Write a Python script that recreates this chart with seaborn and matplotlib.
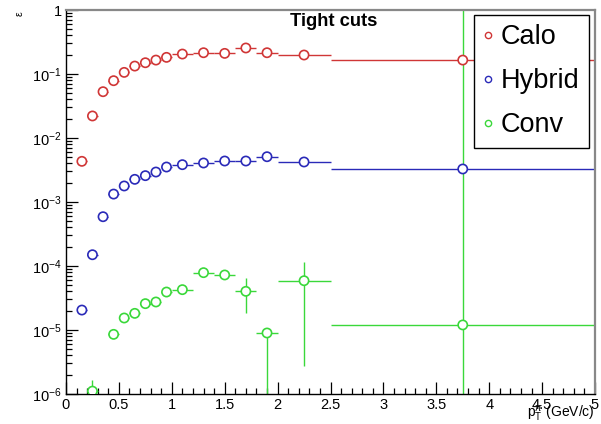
import numpy as np
import pandas as pd
import matplotlib
matplotlib.use("Agg")
import matplotlib.pyplot as plt
import seaborn as sns
from matplotlib.ticker import FixedLocator, LogLocator, NullFormatter, FixedFormatter
from matplotlib.lines import Line2D

# ---------------- data ----------------
x_centers = [0.15, 0.25, 0.35, 0.45, 0.55, 0.65, 0.75, 0.85, 0.95,
             1.1, 1.3, 1.5, 1.7, 1.9, 2.25, 3.75]
x_halfwidth = [0.05, 0.05, 0.05, 0.05, 0.05, 0.05, 0.05, 0.05, 0.05,
               0.1, 0.1, 0.1, 0.1, 0.1, 0.25, 1.25]

calo_eff = [0.00432, 0.0221, 0.0529, 0.0786, 0.106, 0.133, 0.150, 0.165, 0.182,
            0.205, 0.215, 0.210, 0.255, 0.215, 0.198, 0.165]
hybrid_eff = [2.05e-5, 1.50e-4, 5.89e-4, 0.00133, 0.00178, 0.00226, 0.00258, 0.00294,
              0.00352, 0.00383, 0.00407, 0.00437, 0.00437, 0.0051, 0.00422, 0.00328]

conv_x = [0.25, 0.45, 0.55, 0.65, 0.75, 0.85, 0.95, 1.1, 1.3, 1.5, 1.7, 1.9, 2.25, 3.75]
conv_halfwidth = [0.05, 0.05, 0.05, 0.05, 0.05, 0.05, 0.05, 0.1, 0.1, 0.1, 0.1, 0.1, 0.25, 1.25]
conv_eff = [1.11e-6, 8.55e-6, 1.54e-5, 1.82e-5, 2.58e-5, 2.74e-5, 3.92e-5, 4.27e-5,
            7.87e-5, 7.24e-5, 4.02e-5, 8.98e-6, 5.89e-5, 1.2e-5]
conv_lo = [1e-9, 8.55e-6, 1.54e-5, 1.82e-5, 2.58e-5, 2.74e-5, 3.92e-5, 4.27e-5,
           7.87e-5, 7.24e-5, 1.84e-5, 1e-9, 2.71e-6, 1e-9]
conv_hi = [1.64e-6, 8.55e-6, 1.54e-5, 1.82e-5, 2.58e-5, 2.74e-5, 3.92e-5, 4.27e-5,
           7.87e-5, 7.24e-5, 6.49e-5, 9.5e-6, 1.155e-4, 3.0]

series_names = ["Calo", "Hybrid", "Conv"]
series_colors = {"Calo": "#d03636", "Hybrid": "#2a2ab8", "Conv": "#3ad83a"}

x_tick_labels = ["0", "0.5", "1", "1.5", "2", "2.5", "3", "3.5", "4", "4.5", "5"]
y_tick_labels = ["$10^{-6}$", "$10^{-5}$", "$10^{-4}$", "$10^{-3}$", "$10^{-2}$", "$10^{-1}$", "1"]

# ---------------- frame ----------------
sns.set_style("white")
plt.rcParams["font.family"] = ["Liberation Sans", "DejaVu Sans"]
plt.rcParams["mathtext.fontset"] = "custom"
plt.rcParams["mathtext.rm"] = "Liberation Sans"
plt.rcParams["mathtext.it"] = "Liberation Sans:italic"
plt.rcParams["text.color"] = "black"

df_calo = pd.DataFrame({"x": x_centers, "y": calo_eff, "xe": x_halfwidth, "s": "Calo"})
df_hyb = pd.DataFrame({"x": x_centers, "y": hybrid_eff, "xe": x_halfwidth, "s": "Hybrid"})
df_conv = pd.DataFrame({"x": conv_x, "y": conv_eff, "xe": conv_halfwidth, "s": "Conv",
                        "lo": conv_lo, "hi": conv_hi})
df = pd.concat([df_calo, df_hyb, df_conv], ignore_index=True)

fig = plt.figure(figsize=(6.01, 4.24), dpi=100)
ax = fig.add_axes([66 / 601, 1 - 394 / 424, 529 / 601, 384 / 424])
ax.set_yscale("log")
ax.set_xlim(0, 5)
ax.set_ylim(1e-6, 1)

for name, d in [("Calo", df_calo), ("Hybrid", df_hyb), ("Conv", df_conv)]:
    c = series_colors[name]
    if "lo" in d:
        yerr = [d["y"] - d["lo"], d["hi"] - d["y"]]
    else:
        yerr = None
    ax.errorbar(d["x"], d["y"], xerr=d["xe"], yerr=yerr, fmt="none",
                ecolor=c, elinewidth=1.0, capsize=0, zorder=2)

sns.scatterplot(data=df, x="x", y="y", hue="s", palette=series_colors,
                marker="o", s=44, linewidth=1.2, legend=False, ax=ax, zorder=3)
pts = ax.collections[-1]
fc = pts.get_facecolors()
pts.set_edgecolors(fc)
pts.set_facecolors("white")
ax.set_xlabel("")
ax.set_ylabel("")

# ticks
ax.xaxis.set_major_locator(FixedLocator(np.arange(0, 5.01, 0.5)))
ax.xaxis.set_major_formatter(FixedFormatter(x_tick_labels))
ax.xaxis.set_minor_locator(FixedLocator(np.arange(0, 5.01, 0.1)))
ax.yaxis.set_major_locator(FixedLocator([1e-6, 1e-5, 1e-4, 1e-3, 1e-2, 1e-1, 1]))
ax.yaxis.set_major_formatter(FixedFormatter(y_tick_labels))
ax.yaxis.set_minor_locator(LogLocator(base=10, subs=np.arange(2, 10), numticks=20))
ax.yaxis.set_minor_formatter(NullFormatter())
ax.tick_params(which="both", direction="in", top=False, right=False, bottom=True, left=True,
               color="black", width=0.9, labelsize=10.5, labelcolor="black")
ax.tick_params(which="major", length=8.5, pad=3)
ax.tick_params(which="minor", length=4.3)

for side in ["left", "bottom"]:
    ax.spines[side].set_color("black")
    ax.spines[side].set_linewidth(1.0)
for side in ["top", "right"]:
    ax.spines[side].set_color("#888888")
    ax.spines[side].set_linewidth(1.6)

# labels
fig.text(595 / 601, 1 - 414 / 424, r"$\mathrm{p}_{\mathrm{T}}^{\pi}$ (GeV/c)", ha="right",
         va="center", fontsize=10, color="black")
fig.text(20 / 601, 1 - 14 / 424, "ε", rotation=90, ha="center", va="center",
         fontsize=7.5, color="black")
fig.text(334 / 601, 1 - 22 / 424, "Tight cuts", ha="center", va="center",
         fontsize=13.2, fontweight="bold", color="black")

# legend
handles = [Line2D([], [], linestyle="none", marker="o", markersize=4.5,
                  markerfacecolor="white", markeredgecolor=series_colors[n],
                  markeredgewidth=1.0) for n in series_names]
leg = ax.legend(handles, series_names, loc="upper right",
                bbox_to_anchor=(589 / 601, 1 - 14.5 / 424), bbox_transform=fig.transFigure,
                fontsize=19.5, frameon=True, fancybox=False, framealpha=1,
                edgecolor="black", borderpad=0.36, labelspacing=0.66,
                handlelength=0.31, handletextpad=0.31, borderaxespad=0)
leg.get_frame().set_linewidth(1.0)
for t in leg.get_texts():
    t.set_color("black")

fig.savefig("out.png", dpi=100)
